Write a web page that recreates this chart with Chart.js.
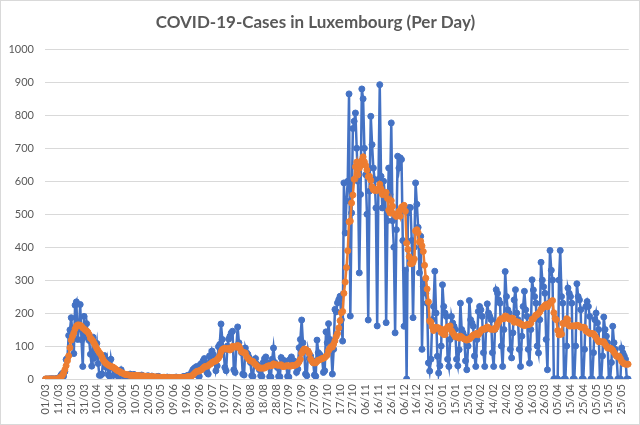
<!DOCTYPE html>
<html><head><meta charset="utf-8">
<script src="https://cdn.jsdelivr.net/npm/chart.js@4.4.1/dist/chart.umd.min.js"></script>
<style>
html,body{margin:0;padding:0;background:#fff;}
#wrap{position:relative;width:640px;height:425px;}
#wrap:after{content:'';position:absolute;left:0;top:0;right:0;bottom:0;border:1px solid #d9d9d9;pointer-events:none;}
canvas{display:block;}
</style></head><body>
<div id="wrap"><canvas id="c" width="640" height="425"></canvas></div>
<script>
const chartTitle = 'COVID-19-Cases in Luxembourg (Per Day)';
const firstDay = '2020-03-01';
const tickLabels = ['01/03','11/03','21/03','31/03','10/04','20/04','30/04','10/05','20/05','30/05',
  '09/06','19/06','29/06','09/07','19/07','29/07','08/08','18/08','28/08','07/09',
  '17/09','27/09','07/10','17/10','27/10','06/11','16/11','26/11','06/12','16/12',
  '26/12','05/01','15/01','25/01','04/02','14/02','24/02','06/03','16/03','26/03',
  '05/04','15/04','25/04','05/05','15/05','25/05'];
const yTickValues = [0,100,200,300,400,500,600,700,800,900,1000];

// daily cases, one row per week (Sun..Sat), from 01/03/2020
const dailyCases = [
  0,0,0,0,1,0,1,
  0,0,2,2,5,12,17,
  8,22,59,63,132,149,186,
  128,77,224,234,120,152,226,
  119,38,190,141,168,125,117,
  75,39,127,64,81,108,47,
  11,11,15,66,71,36,57,
  13,8,60,36,11,30,16,
  12,6,12,28,15,9,11,
  8,12,10,15,9,11,14,
  5,7,9,11,8,12,9,
  4,3,8,10,6,7,9,
  3,2,5,7,8,6,5,
  2,3,4,5,6,4,5,
  1,2,4,5,6,3,4,
  2,5,6,8,7,9,11,
  5,6,20,28,32,35,38,
  10,8,45,38,55,62,48,
  20,15,70,55,85,74,60,
  25,40,98,105,167,120,88,
  35,25,100,121,130,140,145,
  28,20,98,158,110,94,80,
  15,12,94,80,75,65,50,
  10,8,50,62,45,38,28,
  10,8,50,62,67,50,40,
  7,6,60,94,50,45,35,
  8,7,65,58,50,55,40,
  8,6,60,67,55,55,45,
  20,30,95,120,179,110,84,
  15,10,84,62,70,58,50,
  12,8,118,80,75,70,62,
  20,25,143,110,168,120,95,
  15,90,211,204,231,241,251,
  180,115,595,443,540,600,865,
  191,504,760,782,807,700,600,
  322,560,880,850,700,620,500,
  179,570,797,711,640,605,519,
  161,605,893,615,519,600,560,
  171,480,640,560,777,480,400,
  140,453,676,640,671,666,420,
  160,330,0,504,520,520,420,
  186,400,595,530,460,322,433,
  90,280,300,260,230,49,24,
  60,180,220,327,200,69,18,
  40,100,286,220,200,190,60,
  38,120,190,170,160,150,60,
  40,89,230,150,140,130,55,
  28,100,238,180,170,160,70,
  38,120,205,220,210,190,80,
  38,150,228,200,190,180,80,
  38,150,271,260,240,230,100,
  38,150,326,250,210,200,90,
  64,140,240,271,200,180,90,
  38,130,220,266,210,190,90,
  48,150,301,270,250,230,100,
  79,180,354,300,280,260,120,
  28,230,390,330,300,0,0,
  0,0,300,390,250,230,0,
  0,100,276,260,250,230,0,
  0,100,289,250,240,210,0,
  0,90,220,235,220,190,0,
  0,80,180,200,170,150,0,
  0,70,188,150,130,110,0,
  0,50,160,110,90,70,0,
  0,0,94,79,70,60,0,
  0
];

// 7-day average
const sevenDayAverage = [
  0,0,0,0,0,0,0,0,0,0,0,
  4,7,10,18,28,40,55,70,95,118,
  130,140,152,160,164,164,163,160,155,152,
  148,146,142,135,124,120,115,108,100,92,
  86,80,75,66,58,52,48,45,42,40,
  38,37,35,32,29,26,24,22,19,18,
  16,14,13,13,12,11,11,11,11,
  11,10,10,10,9,9,9,9,8,8,
  8,7,7,7,7,6,6,6,6,5,
  5,5,5,5,4,4,4,4,4,4,
  4,4,4,4,4,4,4,5,5,5,
  6,7,7,7,9,12,16,20,23,
  24,24,27,29,33,37,38,
  39,40,44,46,50,52,54,
  55,59,63,70,82,89,92,
  93,91,91,93,88,91,99,
  98,97,97,102,99,92,83,
  81,80,79,68,63,59,55,
  54,53,47,44,40,36,33,
  33,33,33,33,36,38,40,
  40,40,41,46,44,43,42,
  42,42,43,38,38,39,40,
  40,40,39,40,41,41,42,
  44,47,52,60,78,86,91,
  90,87,85,77,61,54,49,
  49,49,54,57,58,60,62,
  63,65,69,73,86,93,98,
  97,106,116,129,138,155,177,
  201,205,260,294,338,389,477,
  479,534,558,606,644,658,620,
  639,647,664,674,659,648,634,
  614,615,603,583,574,572,575,
  572,577,591,577,560,559,565,
  566,548,512,504,541,524,501,
  497,493,498,509,494,521,524,
  527,509,412,393,371,350,350,
  354,364,449,453,444,416,418,
  404,387,345,306,273,234,176,
  172,158,147,157,153,156,155,
  152,141,150,135,135,152,158,
  158,161,147,140,134,128,128,
  128,124,130,127,124,121,120,
  118,120,121,125,129,133,135,
  136,139,134,140,146,150,151,
  151,155,158,155,152,151,151,
  151,151,157,166,173,180,183,
  183,183,191,190,186,182,181,
  185,184,172,175,174,171,171,
  167,166,163,162,163,165,165,
  166,169,181,182,188,194,195,
  199,203,211,215,219,223,226,
  219,226,231,235,238,201,184,
  180,147,134,143,136,169,169,
  169,183,180,161,161,161,161,
  161,161,163,162,160,157,157,
  157,156,146,144,141,138,138,
  138,137,131,126,119,113,113,
  113,112,113,106,100,94,94,
  94,91,87,81,75,69,69,
  69,62,53,49,46,45,45,
  45
];

// category labels: one per day
const categories = [];
{
  const d0 = new Date(firstDay + 'T12:00:00Z');
  for (let i = 0; i < dailyCases.length; i++) {
    const d = new Date(d0.getTime() + i * 86400000);
    categories.push(String(d.getUTCDate()).padStart(2,'0') + '/' + String(d.getUTCMonth()+1).padStart(2,'0'));
  }
}

const textColor = '#595959';
const gridColor = '#d9d9d9';
const fontFamily = "Lato, 'Open Sans', 'DejaVu Sans', sans-serif";

new Chart(document.getElementById('c'), {
  type: 'line',
  data: {
    labels: categories,
    datasets: [
      {
        label: 'Cases',
        data: dailyCases,
        borderColor: '#4472C4',
        backgroundColor: '#4472C4',
        borderWidth: 2.5,
        pointRadius: 3,
        pointBorderWidth: 1,
        pointBackgroundColor: '#4472C4',
        tension: 0,
        order: 2
      },
      {
        label: '7-day average',
        data: sevenDayAverage,
        borderColor: '#ED7D31',
        backgroundColor: '#ED7D31',
        borderWidth: 2.5,
        pointRadius: 3,
        pointBorderWidth: 1,
        pointBackgroundColor: '#ED7D31',
        tension: 0,
        order: 1
      }
    ]
  },
  options: {
    responsive: false,
    animation: false,
    devicePixelRatio: 1,
    layout: { padding: { left: 0, right: 9, top: 0, bottom: 0 } },
    plugins: {
      legend: { display: false },
      tooltip: { enabled: false },
      title: {
        display: true,
        text: chartTitle,
        color: textColor,
        font: { family: fontFamily, size: 17, weight: 'bold', lineHeight: 1.2 },
        padding: { top: 12, bottom: 17 }
      }
    },
    scales: {
      x: {
        type: 'category',
        offset: true,
        grid: { display: false, drawTicks: false },
        border: { display: true, color: gridColor, width: 1 },
        ticks: {
          autoSkip: false,
          minRotation: 90,
          maxRotation: 90,
          padding: 5,
          color: textColor,
          font: { family: fontFamily, size: 11 },
          callback: function (v, i) { return i % 10 === 0 ? tickLabels[i / 10] : null; }
        },
        afterFit: function (s) { s.height = 46; }
      },
      y: {
        min: yTickValues[0],
        max: yTickValues[yTickValues.length - 1],
        afterBuildTicks: function (s) { s.ticks = yTickValues.map(v => ({ value: v })); },
        grid: { color: gridColor, drawTicks: false },
        border: { display: false },
        ticks: {
          color: textColor,
          font: { family: fontFamily, size: 11 },
          padding: 11,
          callback: function (v) { return String(v); }
        },
        afterFit: function (s) { s.width = 45; }
      }
    }
  }
});
</script>
</body></html>
